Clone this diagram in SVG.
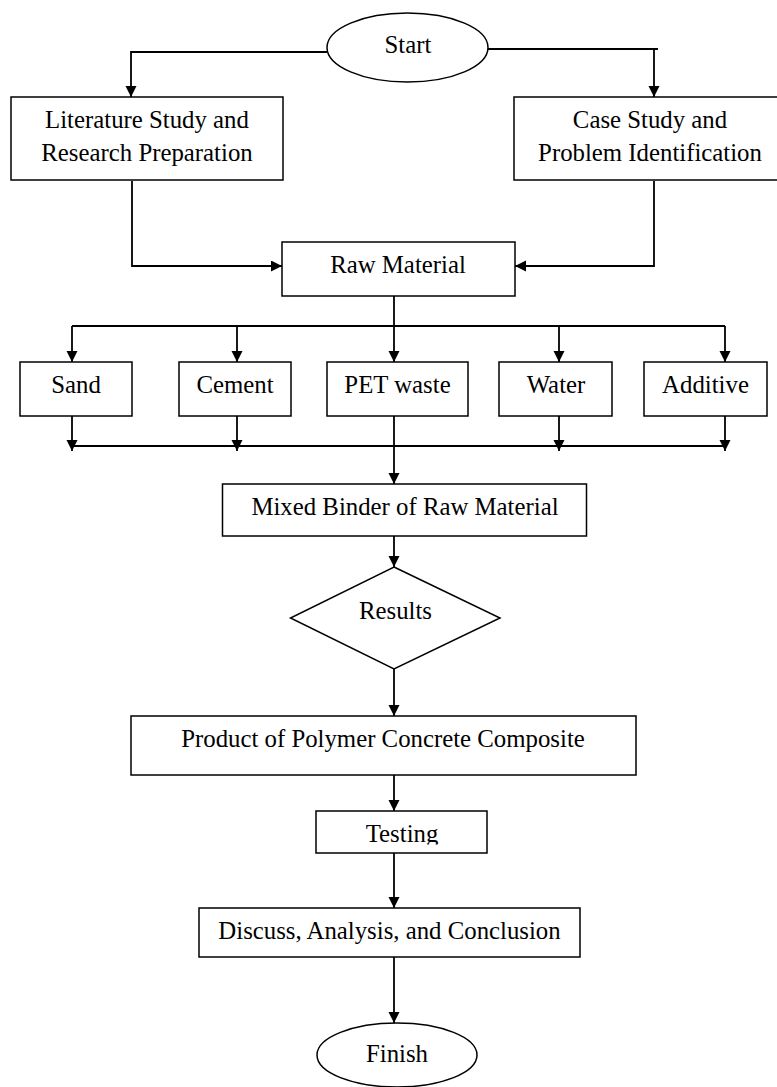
<svg xmlns="http://www.w3.org/2000/svg" width="777" height="1087" viewBox="0 0 777 1087">
<style>
.box{fill:#fff;stroke:#000;stroke-width:1.5}
.lbl{font-family:"Liberation Serif","Times New Roman",serif;font-size:24.8px;fill:#000;text-anchor:middle}
.con{fill:none;stroke:#000;stroke-width:1.8}
</style>
<defs>
<marker id="ah" markerUnits="userSpaceOnUse" markerWidth="12" markerHeight="12" refX="11" refY="5.5" orient="auto">
<path d="M0,0 L11,5.5 L0,11 z" fill="#000"/>
</marker>
<clipPath id="clipTest"><rect x="300" y="800" width="200" height="44.5"/></clipPath>
</defs>
<rect width="777" height="1087" fill="#fff"/>
<g id="connectors">
<path class="con" d="M327,52 H131 V97" marker-end="url(#ah)"/>
<path class="con" d="M488,49 H658 M654,49 V97" marker-end="url(#ah)"/>
<path class="con" d="M132,181 V266 H282" marker-end="url(#ah)"/>
<path class="con" d="M654,181 V266 H515" marker-end="url(#ah)"/>
<path class="con" d="M394,296 V362" marker-end="url(#ah)"/>
<path class="con" d="M72,326 H725"/>
<path class="con" d="M72,326 V362" marker-end="url(#ah)"/>
<path class="con" d="M237,326 V362" marker-end="url(#ah)"/>
<path class="con" d="M559,326 V362" marker-end="url(#ah)"/>
<path class="con" d="M725,326 V362" marker-end="url(#ah)"/>
<path class="con" d="M72,446 H725"/>
<path class="con" d="M72,416 V451" marker-end="url(#ah)"/>
<path class="con" d="M237,416 V451" marker-end="url(#ah)"/>
<path class="con" d="M559,416 V451" marker-end="url(#ah)"/>
<path class="con" d="M725,416 V451" marker-end="url(#ah)"/>
<path class="con" d="M394,416 V484" marker-end="url(#ah)"/>
<path class="con" d="M394,536 V567" marker-end="url(#ah)"/>
<path class="con" d="M394,669 V716" marker-end="url(#ah)"/>
<path class="con" d="M394,775 V811" marker-end="url(#ah)"/>
<path class="con" d="M394,853 V908" marker-end="url(#ah)"/>
<path class="con" d="M394,957 V1023" marker-end="url(#ah)"/>
</g>
<g id="start"><ellipse class="box" cx="407.5" cy="47.5" rx="80.5" ry="34.5"/><text class="lbl" x="408" y="52.5">Start</text></g>
<g id="literature"><rect class="box" x="11" y="97" width="272" height="83"/><text class="lbl" x="147" y="128">Literature Study and</text><text class="lbl" x="147" y="161">Research Preparation</text></g>
<g id="casestudy"><rect class="box" x="514" y="97" width="280" height="83"/><text class="lbl" x="650" y="128">Case Study and</text><text class="lbl" x="650" y="161">Problem Identification</text></g>
<g id="rawmaterial"><rect class="box" x="282" y="242" width="233" height="54"/><text class="lbl" x="398" y="273">Raw Material</text></g>
<g id="sand"><rect class="box" x="20" y="362" width="112" height="54"/><text class="lbl" x="76" y="393">Sand</text></g>
<g id="cement"><rect class="box" x="179" y="362" width="112" height="54"/><text class="lbl" x="235" y="393">Cement</text></g>
<g id="petwaste"><rect class="box" x="327" y="362" width="141" height="54"/><text class="lbl" x="397.5" y="393">PET waste</text></g>
<g id="water"><rect class="box" x="499" y="362" width="113" height="54"/><text class="lbl" x="556" y="393">Water</text></g>
<g id="additive"><rect class="box" x="644" y="362" width="123" height="54"/><text class="lbl" x="705.5" y="393">Additive</text></g>
<g id="mixed"><rect class="box" x="222.5" y="484" width="364" height="52"/><text class="lbl" x="405" y="515">Mixed Binder of Raw Material</text></g>
<g id="results"><polygon class="box" points="394,567 500,618 394,669 290.5,618"/><text class="lbl" x="395.5" y="619">Results</text></g>
<g id="product"><rect class="box" x="131" y="716" width="505" height="59"/><text class="lbl" x="383" y="747">Product of Polymer Concrete Composite</text></g>
<g id="testing"><rect class="box" x="316" y="811" width="171" height="42"/><text class="lbl" x="402" y="842" clip-path="url(#clipTest)">Testing</text></g>
<g id="discuss"><rect class="box" x="199" y="908" width="381" height="49"/><text class="lbl" x="389.5" y="939">Discuss, Analysis, and Conclusion</text></g>
<g id="finish"><ellipse class="box" cx="397" cy="1055" rx="80" ry="32"/><text class="lbl" x="397" y="1062">Finish</text></g>
</svg>
